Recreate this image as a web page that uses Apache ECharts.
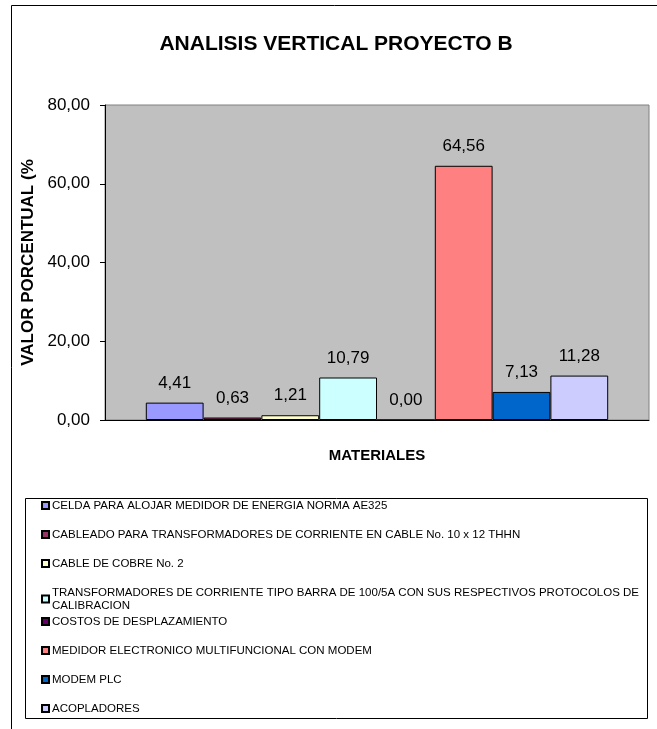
<!DOCTYPE html>
<html>
<head>
<meta charset="utf-8">
<script src="https://cdn.jsdelivr.net/npm/echarts@6/dist/echarts.min.js"></script>
<style>
  html, body { margin: 0; padding: 0; background: #ffffff; }
  #chart { width: 657px; height: 729px; }
</style>
</head>
<body>
<div id="chart"></div>
<script>
// Materials of project B and their share of the total cost (%)
const materiales = [
  'CELDA PARA ALOJAR MEDIDOR DE ENERGIA NORMA AE325',
  'CABLEADO PARA TRANSFORMADORES DE CORRIENTE EN CABLE No. 10 x 12 THHN',
  'CABLE DE COBRE No. 2',
  'TRANSFORMADORES DE CORRIENTE TIPO BARRA DE 100/5A CON SUS RESPECTIVOS PROTOCOLOS DE CALIBRACION',
  'COSTOS DE DESPLAZAMIENTO',
  'MEDIDOR ELECTRONICO MULTIFUNCIONAL CON MODEM',
  'MODEM PLC',
  'ACOPLADORES'
];
const porcentajes = [4.41, 0.63, 1.21, 10.79, 0.00, 64.56, 7.13, 11.28];
const colores = ['#9999FF', '#993366', '#FFFFCC', '#CCFFFF', '#660066', '#FF8080', '#0066CC', '#CCCCFF'];
const yTicks = [0, 20, 40, 60, 80];

const FONT = '"Liberation Sans", Arial, sans-serif';
const fmt = v => Number(v).toFixed(2).replace('.', ',');

const chart = echarts.init(document.getElementById('chart'), null, { renderer: 'canvas' });

const series = materiales.map((name, i) => ({
  name: name,
  type: 'bar',
  data: [porcentajes[i]],
  barGap: '0%',
  barCategoryGap: '15%',
  itemStyle: { color: colores[i], borderColor: '#000000', borderWidth: 1 },
  label: {
    show: true,
    position: 'top',
    distance: 11,
    formatter: p => fmt(p.value),
    color: '#000000',
    fontFamily: FONT,
    fontSize: 17
  },
  emphasis: { disabled: true }
}));

// one legend block per material, stacked at a fixed pitch
const legendTop = 499;
const legendPitch = 29;
const legends = materiales.map((name, i) => ({
  data: [name],
  left: 41,
  top: legendTop + i * legendPitch,
  orient: 'vertical',
  icon: 'rect',
  itemWidth: 7,
  itemHeight: 7,
  itemGap: 0,
  padding: 0,
  selectedMode: false,
  textStyle: {
    fontFamily: FONT,
    fontSize: 11.5,
    color: '#000000',
    width: 592,
    overflow: 'break',
    lineHeight: 13,
    padding: [0, 0, 0, -2]
  }
}));

chart.setOption({
  animation: false,
  backgroundColor: '#ffffff',
  title: {
    text: 'ANALISIS VERTICAL PROYECTO B',
    left: 331,
    textAlign: 'center',
    top: 29,
    textStyle: { fontFamily: FONT, fontSize: 21, fontWeight: 'bold', color: '#000000' }
  },
  graphic: [
    { type: 'rect', shape: { x: 11.5, y: 5.5, width: 700, height: 800 },
      style: { fill: 'none', stroke: '#000000', lineWidth: 1 }, silent: true, z: -1 },
    { type: 'rect', shape: { x: 25.5, y: 498.5, width: 622, height: 220 },
      style: { fill: 'none', stroke: '#000000', lineWidth: 1 }, silent: true, z: -1 }
  ],
  legend: legends,
  grid: {
    left: 105, right: 8, top: 105, bottom: 309,
    show: true,
    backgroundColor: '#C0C0C0',
    borderColor: '#808080',
    borderWidth: 1
  },
  xAxis: {
    type: 'category',
    data: [''],
    name: 'MATERIALES',
    nameLocation: 'middle',
    nameGap: 28,
    nameTextStyle: { fontFamily: FONT, fontSize: 15, fontWeight: 'bold', color: '#000000' },
    axisLine: { lineStyle: { color: '#000000', width: 1 } },
    axisTick: { show: false },
    axisLabel: { show: false }
  },
  yAxis: {
    type: 'value',
    min: yTicks[0],
    max: yTicks[yTicks.length - 1],
    interval: 20,
    name: 'VALOR PORCENTUAL (%',
    nameLocation: 'middle',
    nameGap: 68,
    nameTextStyle: { fontFamily: FONT, fontSize: 17, fontWeight: 'bold', color: '#000000' },
    axisLine: { show: true, lineStyle: { color: '#000000', width: 1 } },
    axisTick: { show: true, length: 5, lineStyle: { color: '#000000' } },
    splitLine: { show: false },
    axisLabel: {
      formatter: v => fmt(v),
      fontFamily: FONT,
      fontSize: 17,
      color: '#000000',
      margin: 15
    }
  },
  series: series
});
</script>
</body>
</html>
